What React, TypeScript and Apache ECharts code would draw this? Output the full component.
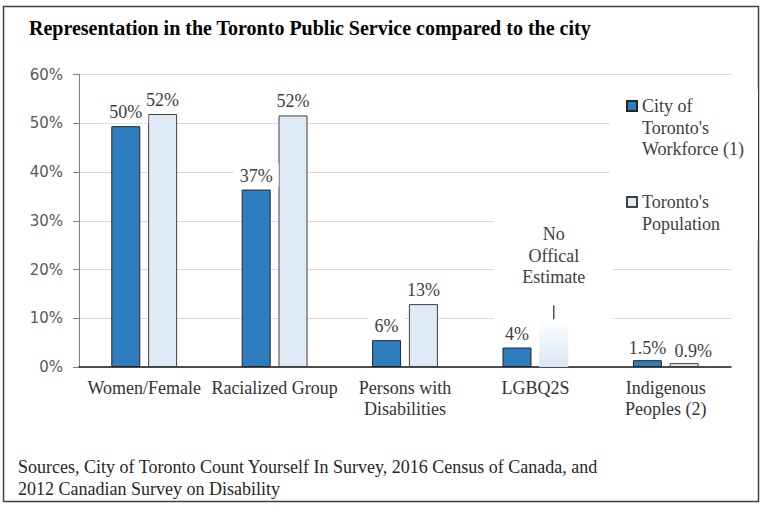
import React, { useEffect, useRef } from 'react';
import * as echarts from 'echarts';

const titleText = 'Representation in the Toronto Public Service compared to the city';
const sourcesText = 'Sources, City of Toronto Count Yourself In Survey, 2016 Census of Canada, and\n2012 Canadian Survey on Disability';

const categories = ['Women/Female', 'Racialized Group', 'Persons with\nDisabilities', 'LGBQ2S', 'Indigenous\nPeoples (2)'];
const seriesNames = ["City of Toronto's Workforce (1)", "Toronto's Population"];
const legendLines = [["City of", "Toronto's", 'Workforce (1)'], ["Toronto's", 'Population']];

const workforceValues = [49.4, 36.4, 5.5, 4.0, 1.4];
const populationValues = [51.9, 51.6, 12.9, 9.8, 0.8];
const workforceLabels = ['50%', '37%', '6%', '4%', '1.5%'];
const populationLabels = ['52%', '52%', '13%', 'No\nOffical\nEstimate', '0.9%'];
const noEstimateIndex = 3;

const yMin = 0;
const yMax = 60;
const yInterval = 10;

const SERIF = "'Liberation Serif', 'Times New Roman', serif";
const SANS = "'DejaVu Sans', Verdana, sans-serif";
const BLUE = '#2E7EBF';
const LIGHT = '#DEEAF6';

export default function App() {
  const ref = useRef<HTMLDivElement>(null);

  useEffect(() => {
    if (!ref.current) return;
    const chart = echarts.init(ref.current, undefined, { renderer: 'svg' });

    const labelBase = {
      show: true,
      position: 'top',
      distance: 3,
      fontFamily: SERIF,
      fontSize: 18,
      lineHeight: 20,
      color: '#404040',
      backgroundColor: '#ffffff',
      padding: [1, 6],
    };

    const workforceData = workforceValues.map((v, i) => ({
      value: v,
      label: {
        ...labelBase,
        formatter: workforceLabels[i],
        distance: i === 4 ? 1 : 3,
      },
    }));

    const populationData = populationValues.map((v, i) => {
      if (i === noEstimateIndex) {
        const lines = populationLabels[i].split('\n');
        return {
          value: v,
          itemStyle: {
            color: new echarts.graphic.LinearGradient(0, 0, 0, 1, [
              { offset: 0, color: '#ffffff' },
              { offset: 1, color: '#D9E6F4' },
            ]),
            borderWidth: 0,
          },
          label: {
            show: true,
            position: 'top',
            distance: 0,
            backgroundColor: '#ffffff',
            padding: [4, 28, 0, 28],
            formatter: lines.map((l) => `{t|${l}}`).join('\n') + '\n{s| }\n{l| }',
            rich: {
              t: { fontFamily: SERIF, fontSize: 18, lineHeight: 21.5, color: '#404040' },
              s: { fontSize: 4, height: 17, lineHeight: 17 },
              l: { fontSize: 4, width: 1, height: 14, lineHeight: 14, backgroundColor: '#000000' },
            },
          },
        };
      }
      return {
        value: v,
        label: {
          ...labelBase,
          formatter: populationLabels[i],
          distance: i === 4 ? 1 : 3,
          offset: i === 4 ? [9, 0] : [0, 0],
        },
      };
    });

    chart.setOption({
      animation: false,
      backgroundColor: '#ffffff',
      title: [
        {
          text: titleText,
          left: 29,
          top: 17,
          padding: 0,
          textStyle: { fontFamily: SERIF, fontSize: 20, fontWeight: 'bold', color: '#000000', lineHeight: 22 },
        },
        {
          text: sourcesText,
          left: 18,
          top: 456,
          padding: 0,
          textStyle: { fontFamily: SERIF, fontSize: 18, fontWeight: 'normal', color: '#262626', lineHeight: 22 },
        },
      ],
      graphic: [
        {
          type: 'rect',
          shape: { x: 3.5, y: 6.5, width: 755, height: 495 },
          style: { fill: 'none', stroke: '#404040', lineWidth: 1.5 },
          silent: true,
        },
      ],
      legend: {
        orient: 'vertical',
        left: 610,
        top: 89,
        padding: [8, 14, 8, 16],
        backgroundColor: '#ffffff',
        itemWidth: 10,
        itemHeight: 10,
        itemGap: 35,
        icon: 'rect',
        selectedMode: false,
        formatter: (name: string) => {
          const idx = seriesNames.indexOf(name);
          return legendLines[idx].map((l) => `{t|${l}}`).join('\n');
        },
        textStyle: {
          rich: {
            t: { fontFamily: SERIF, fontSize: 18, lineHeight: 21.5, color: '#404040' },
          },
        },
        data: seriesNames.map((n, i) => ({
          name: n,
          textStyle: { padding: [(legendLines[i].length - 1) * 21.5, 0, 0, 0] },
        })),
      },
      grid: { left: 79, right: 37, top: 74.5, bottom: 148, containLabel: false },
      xAxis: {
        type: 'category',
        data: categories,
        axisLine: { show: true, lineStyle: { color: '#1a1a1a', width: 1.5 } },
        axisTick: { show: false },
        axisLabel: {
          interval: 0,
          hideOverlap: false,
          margin: 10,
          fontFamily: SERIF,
          fontSize: 18,
          lineHeight: 21,
          color: '#333333',
        },
      },
      yAxis: {
        type: 'value',
        min: yMin,
        max: yMax,
        interval: yInterval,
        axisLine: { show: true, lineStyle: { color: '#7f7f7f', width: 1 } },
        axisTick: { show: true, length: 6, lineStyle: { color: '#7f7f7f' } },
        splitLine: { show: true, lineStyle: { color: '#D9D9D9', width: 1 } },
        axisLabel: {
          formatter: '{value}%',
          margin: 16,
          fontFamily: SANS,
          fontSize: 15,
          color: '#595959',
        },
      },
      series: [
        {
          name: seriesNames[0],
          type: 'bar',
          data: workforceData,
          barWidth: 29,
          barGap: '27%',
          itemStyle: { color: BLUE, borderColor: '#262626', borderWidth: 1 },
        },
        {
          name: seriesNames[1],
          type: 'bar',
          data: populationData,
          barWidth: 29,
          barGap: '27%',
          itemStyle: { color: LIGHT, borderColor: '#404040', borderWidth: 1 },
        },
      ],
    });

    return () => chart.dispose();
  }, []);

  return (
    <div
      ref={ref}
      style={{ position: 'absolute', left: 0, top: 0, width: 768, height: 515 }}
    />
  );
}
